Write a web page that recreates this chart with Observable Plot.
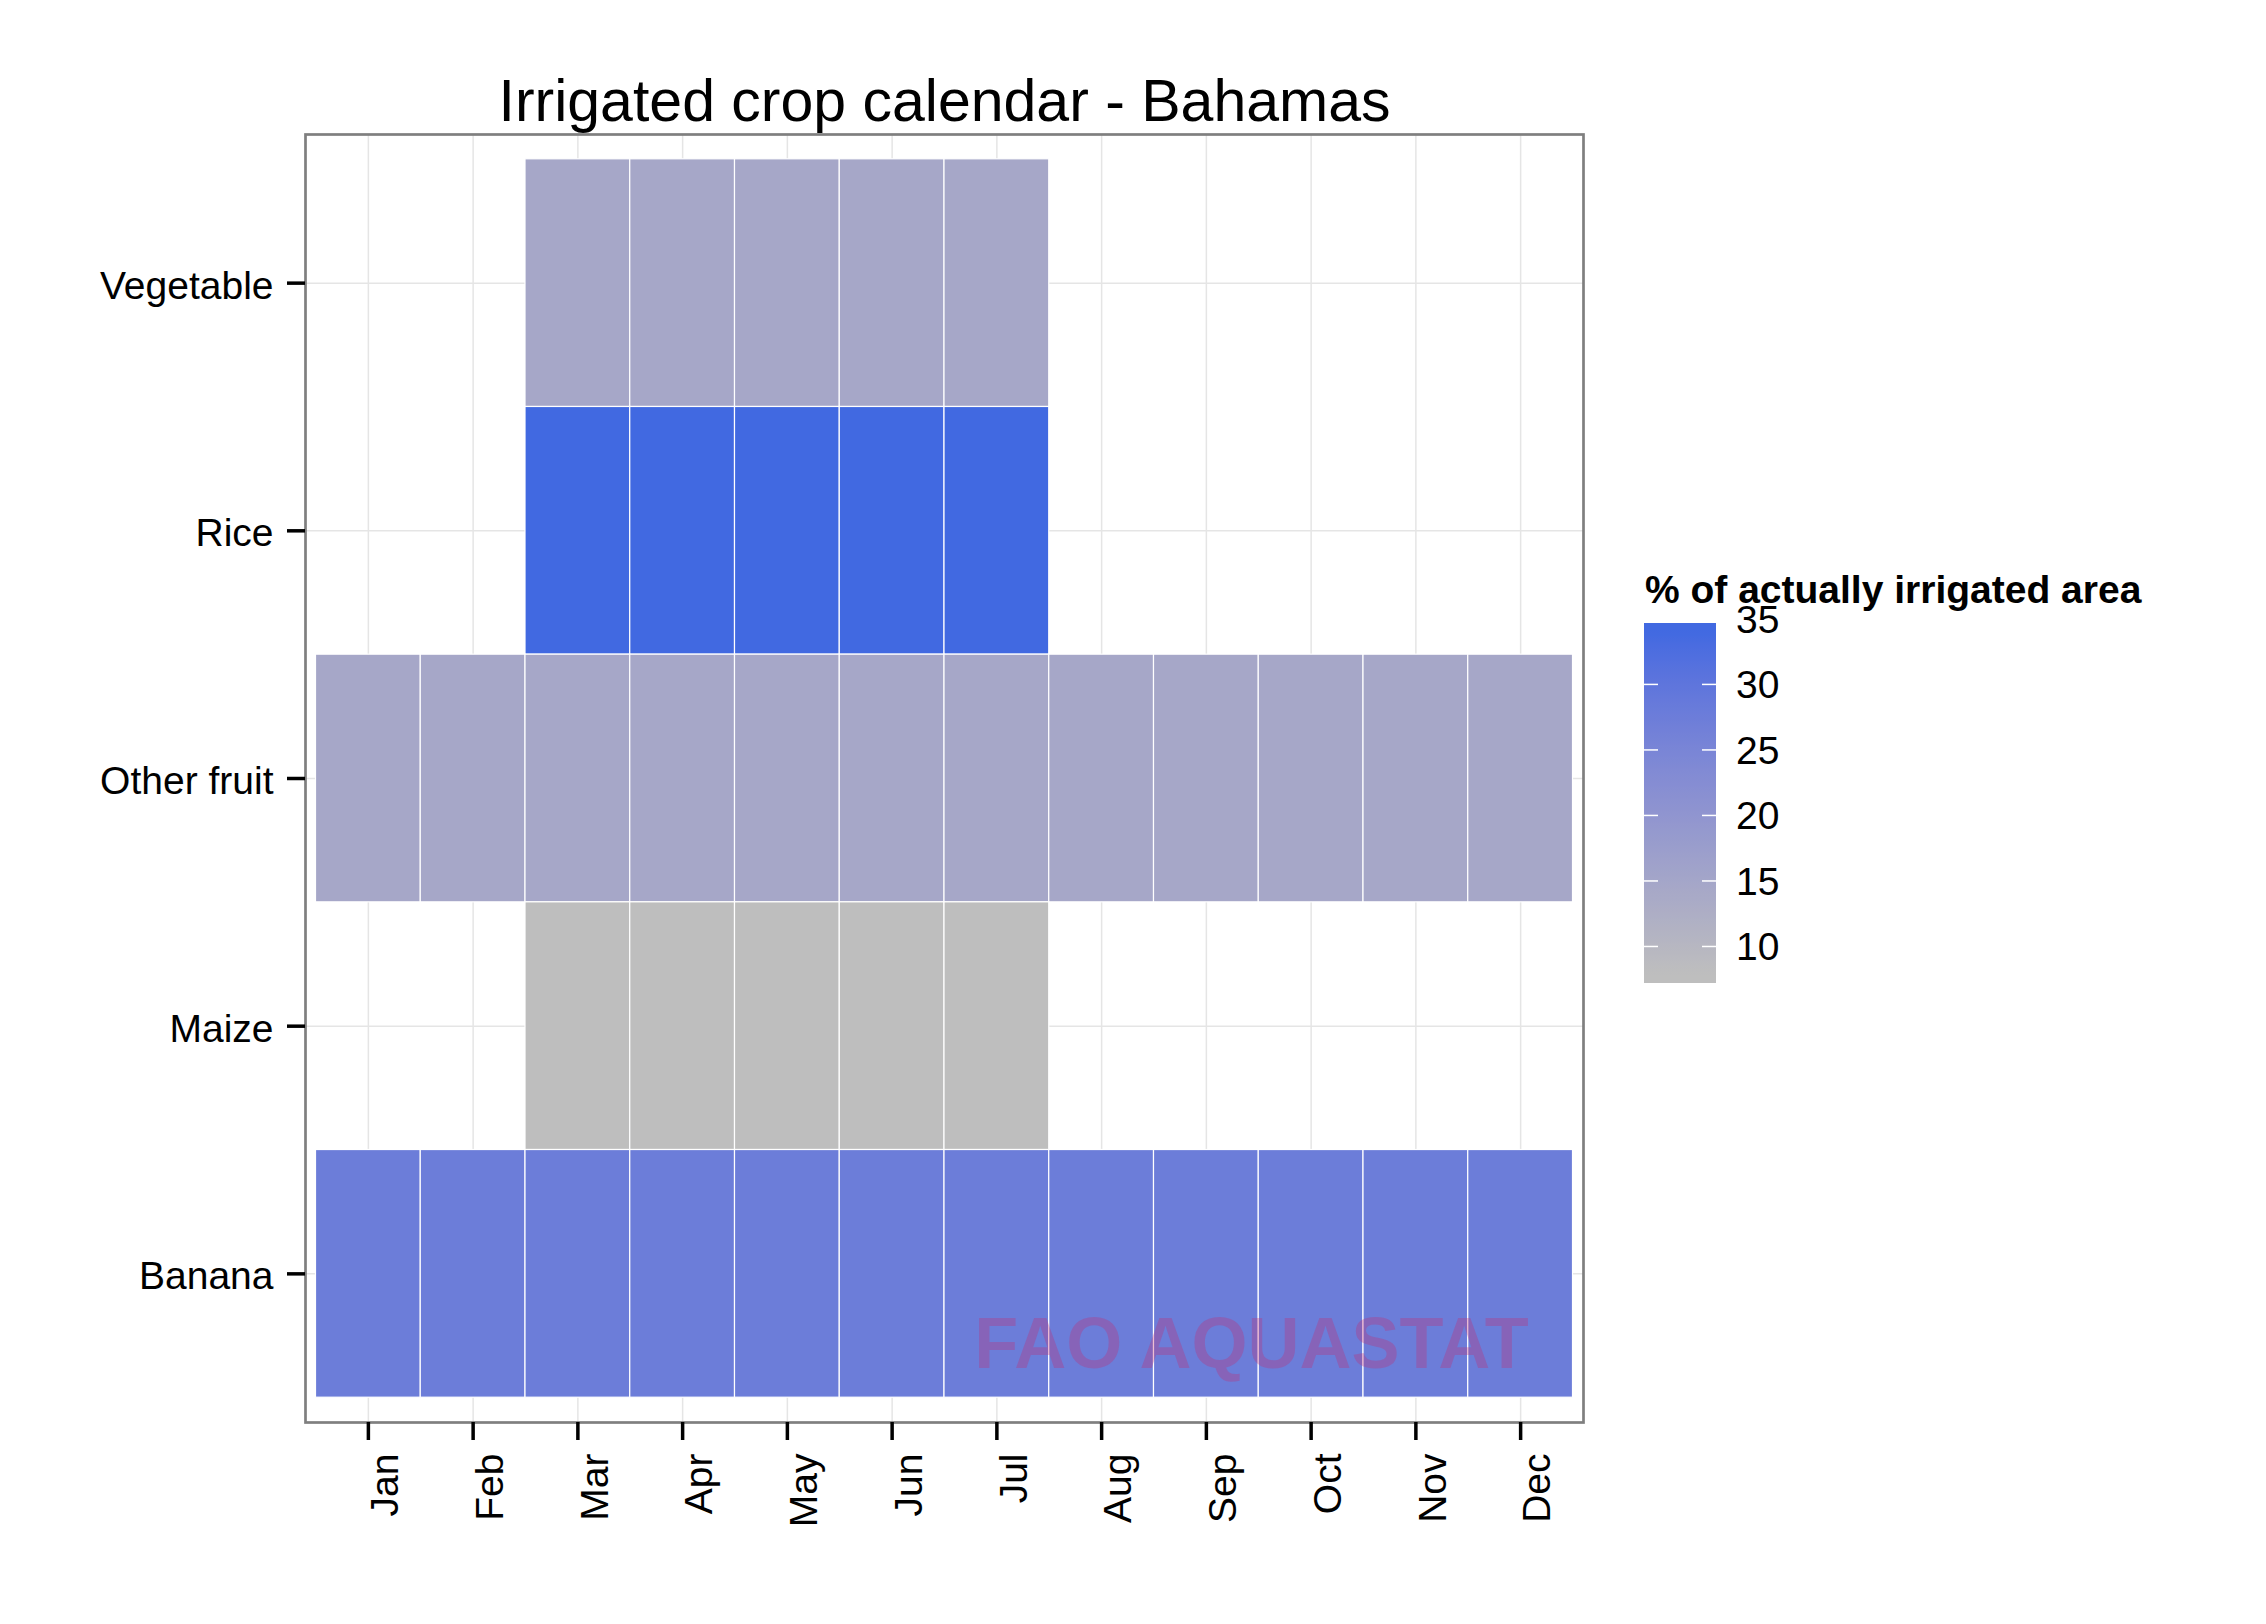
<!DOCTYPE html>
<html><head><meta charset="utf-8">
<script src="https://cdn.jsdelivr.net/npm/d3@7"></script>
<script src="https://cdn.jsdelivr.net/npm/@observablehq/plot@0.6"></script>
<style>html,body{margin:0;padding:0;background:#fff;} svg{display:block}</style>
</head><body><div id="chart"></div>
<script>
const chartTitle = "Irrigated crop calendar - Bahamas";
const legendTitle = "% of actually irrigated area";
const watermark = "FAO AQUASTAT";
const months = ["Jan","Feb","Mar","Apr","May","Jun","Jul","Aug","Sep","Oct","Nov","Dec"];
const crops = ["Vegetable","Rice","Other fruit","Maize","Banana"];
const irrigatedPct = [14.6, 34.0, 14.6, 7.9, 27.6];
const seasonStart = ["Mar","Mar","Jan","Mar","Jan"];
const seasonEnd = ["Jul","Jul","Dec","Jul","Dec"];
const legendTicks = [10, 15, 20, 25, 30, 35];
const lowColor = "#BEBEBE", highColor = "#4169E1";

const cells = [];
crops.forEach((crop, i) => {
  const a = months.indexOf(seasonStart[i]), b = months.indexOf(seasonEnd[i]);
  for (let k = a; k <= b; ++k) cells.push({crop, month: months[k], value: irrigatedPct[i]});
});

const W = 2266, H = 1624;
const FONT = "'Liberation Sans', Arial, sans-serif";
const [vmin, vmax] = d3.extent(irrigatedPct);
const interp = d3.interpolateLab(lowColor, highColor);

const chart = Plot.plot({
  width: W, height: H,
  marginLeft: 305, marginRight: 683, marginTop: 134, marginBottom: 202,
  style: {fontFamily: FONT, background: "#fff", color: "#000", overflow: "visible"},
  x: {type: "band", domain: months, padding: 0, round: false, insetLeft: 10.5, insetRight: 10.5, label: null},
  y: {type: "band", domain: crops, padding: 0, round: false, insetTop: 24.8, insetBottom: 24.8, label: null},
  color: {type: "linear", domain: [vmin, vmax], range: [lowColor, highColor], interpolate: d3.interpolateLab},
  marks: [
    Plot.gridX({stroke: "#e5e5e5", strokeOpacity: 1, strokeWidth: 1.5}),
    Plot.gridY({stroke: "#e5e5e5", strokeOpacity: 1, strokeWidth: 1.5}),
    Plot.cell(cells, {x: "month", y: "crop", fill: "value", stroke: "white", strokeWidth: 1.2}),
    Plot.text([watermark], {text: d => d, frameAnchor: "bottom-right", textAnchor: "middle", lineAnchor: "bottom",
      dx: -332, dy: -55, fontSize: 72, fontWeight: "bold", fill: "#c8286e", fillOpacity: 0.3}),
    Plot.frame({stroke: "#7f7f7f", strokeWidth: 2.7}),
    Plot.axisY({tickSize: 18, strokeWidth: 3.5, fill: "none", label: null}),
    Plot.axisY({tickSize: 0, tickPadding: 32, fontSize: 39, dy: 3, label: null}),
    Plot.axisX({tickSize: 18, strokeWidth: 3.5, fill: "none", label: null}),
    Plot.text(months, {x: d => d, text: d => d, frameAnchor: "bottom", rotate: -90, textAnchor: "end", lineAnchor: "top",
      dx: 2, dy: 31, fontSize: 39, fill: "#000"}),
    Plot.text([chartTitle], {text: d => d, frameAnchor: "top", lineAnchor: "bottom", dy: -14, fontSize: 59, fill: "#000"})
  ]
});
document.getElementById("chart").appendChild(chart);

// Vertical colour bar legend
const svg = d3.select(chart);
const nbin = 20;
const pad = (vmax - vmin) / (2 * (nbin - 1));
const lg = {x: 1644, top: 623, w: 72, h: 360};
const ly = d3.scaleLinear().domain([vmin - pad, vmax + pad]).range([lg.top + lg.h, lg.top]);
const defs = svg.append("defs");
const grad = defs.append("linearGradient").attr("id", "legendGrad")
  .attr("x1", 0).attr("y1", 1).attr("x2", 0).attr("y2", 0);
const nstops = 60;
for (let i = 0; i <= nstops; ++i) {
  const f = i / nstops;
  const v = Math.max(vmin, Math.min(vmax, (vmin - pad) + f * (vmax - vmin + 2 * pad)));
  grad.append("stop").attr("offset", f).attr("stop-color", interp((v - vmin) / (vmax - vmin)));
}
const g = svg.append("g").attr("font-family", FONT).attr("text-anchor", "start");
g.append("rect").attr("x", lg.x).attr("y", lg.top).attr("width", lg.w).attr("height", lg.h)
  .attr("fill", "url(#legendGrad)");
const dom = ly.domain();
legendTicks.forEach(t => {
  const y = ly(t);
  if (t >= dom[0] && t <= dom[1]) {
    g.append("line").attr("x1", lg.x).attr("x2", lg.x + 14).attr("y1", y).attr("y2", y)
      .attr("stroke", "white").attr("stroke-width", 1.5);
    g.append("line").attr("x1", lg.x + lg.w - 14).attr("x2", lg.x + lg.w).attr("y1", y).attr("y2", y)
      .attr("stroke", "white").attr("stroke-width", 1.5);
  }
  g.append("text").attr("x", lg.x + lg.w + 20).attr("y", y).attr("dy", "0.35em")
    .attr("text-anchor", "start").attr("font-size", 39).attr("fill", "#000").text(t);
});
g.append("text").attr("x", lg.x + 1).attr("y", 603).attr("text-anchor", "start")
  .attr("font-size", 39).attr("font-weight", "bold").attr("fill", "#000").text(legendTitle);
</script>
</body></html>
